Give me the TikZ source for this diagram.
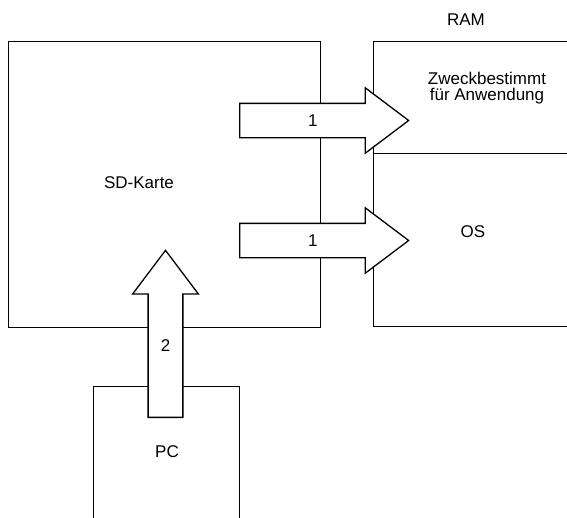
\documentclass[tikz,border=0pt]{standalone}
\usepackage{fontspec}
\setmainfont{Liberation Sans}
\usepackage{tikz}
\usetikzlibrary{shapes.arrows}

\begin{document}
\begin{tikzpicture}[
    x=1pt, y=-1pt,
    box/.style={draw, line width=1.3pt, inner sep=0pt, anchor=north west},
    block arrow/.style={single arrow, draw, fill=white, line width=1.3pt,
        minimum width=64pt, single arrow head extend=15.5pt,
        single arrow tip angle=74, inner xsep=12pt, inner ysep=10.75pt,
        text height=11.5pt, text depth=0pt, anchor=tail,
        font=\fontsize{17}{16.5}\selectfont},
    box label/.style={font=\fontsize{17}{16.5}\selectfont, align=center, inner sep=0pt}
]

\useasboundingbox (0,0) rectangle (567,517);
\clip (0,0) rectangle (567,517);

% --- 1. SD card ---
\node[box, minimum width=312pt, minimum height=286pt] (sd) at (8,41) {};
\node[box label] (sdText) at (139,183) {SD-Karte};

% --- 2. RAM ---
\node[box label] (ramText) at (466,20) {RAM};
\node[box, minimum width=240pt, minimum height=112pt] (ramApp) at (373,41) {};
\node[box, minimum width=240pt, minimum height=173pt] (ramOS) at (373,153) {};
\node[box label] (appText) at (487,88) {Zweckbestimmt\\für Anwendung};
\node[box label] (osText) at (473,232) {OS};

% --- 3. PC ---
\node[box, minimum width=146pt, minimum height=200pt] (pc) at (93,386) {};
\node[box label] (pcText) at (167,452) {PC};

% --- 4. Block arrows ---
\node[block arrow, minimum height=169pt] (loadApp) at (239,120.5) {1};
\node[block arrow, minimum height=169pt] (loadOS) at (239,240.5) {1};
\node[block arrow, minimum height=167pt, shape border rotate=90]
    (flash) at (165.5,418) {2};

\end{tikzpicture}
\end{document}
